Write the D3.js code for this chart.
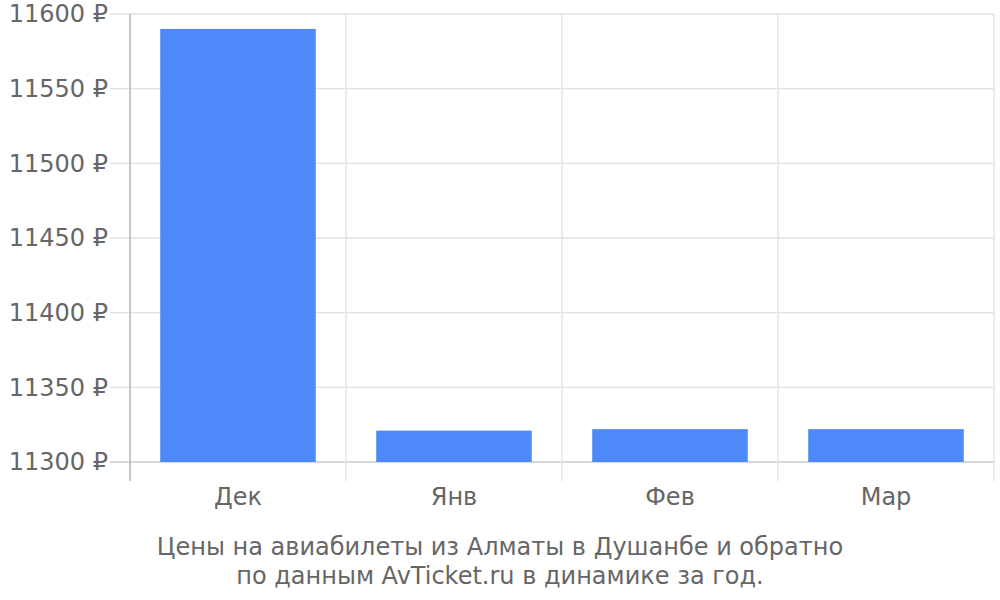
<!DOCTYPE html>
<html>
<head>
<meta charset="utf-8">
<script src="https://cdn.jsdelivr.net/npm/d3@7"></script>
<style>
  body { margin: 0; background: #fff; }
  svg text { font-family: "DejaVu Sans", sans-serif; fill: #666; }
</style>
</head>
<body>
<svg id="chart" width="1000" height="600"></svg>
<script>
// Data
const months = ["Дек", "Янв", "Фев", "Мар"];
const prices = [11590, 11321, 11322, 11322];
const yTicks = [11300, 11350, 11400, 11450, 11500, 11550, 11600];
const caption = [
    "Цены на авиабилеты из Алматы в Душанбе и обратно",
    "по данным AvTicket.ru в динамике за год."
];

const margin = { top: 14, right: 6, bottom: 138, left: 130 };
const width = 1000 - margin.left - margin.right;
const height = 600 - margin.top - margin.bottom;

const svg = d3.select("#chart")
    .append("g")
    .attr("transform", `translate(${margin.left},${margin.top})`);

const x = d3.scaleBand()
    .domain(months)
    .range([0, width])
    .paddingInner(0.28)
    .paddingOuter(0.14);

const y = d3.scaleLinear()
    .domain([11300, 11600])
    .range([height, 0]);

// Horizontal grid lines + ticks
svg.append("g")
    .selectAll("line")
    .data(yTicks)
    .join("line")
    .attr("x1", -20)
    .attr("x2", width)
    .attr("y1", d => y(d))
    .attr("y2", d => y(d))
    .attr("stroke", d => d === 11300 ? "#ccc" : "#e0e0e0")
    .attr("stroke-width", 1.3);

// Vertical grid lines at band boundaries
const bounds = months.map(m => x(m) - x.step() * x.paddingOuter()).concat([width]);
svg.append("g")
    .selectAll("line")
    .data(bounds)
    .join("line")
    .attr("x1", d => d)
    .attr("x2", d => d)
    .attr("y1", 0)
    .attr("y2", height + 19)
    .attr("stroke", (d, i) => i === 0 ? "#aaa" : "#e0e0e0")
    .attr("stroke-width", 1.3);

// Bars
svg.append("g")
    .selectAll("rect")
    .data(prices)
    .join("rect")
    .attr("x", (d, i) => x(months[i]))
    .attr("width", x.bandwidth())
    .attr("y", d => y(d))
    .attr("height", d => height - y(d))
    .attr("fill", "#4d89f9");

// Y labels
svg.append("g")
    .selectAll("text")
    .data(yTicks)
    .join("text")
    .attr("x", -22)
    .attr("y", d => y(d))
    .attr("dy", "0.35em")
    .attr("text-anchor", "end")
    .attr("font-size", 24)
    .text(d => `${d} ₽`);

// X labels
svg.append("g")
    .selectAll("text")
    .data(months)
    .join("text")
    .attr("x", d => x(d) + x.bandwidth() / 2)
    .attr("y", height + 43)
    .attr("text-anchor", "middle")
    .attr("font-size", 24)
    .text(d => d);

// Caption
svg.append("g")
    .selectAll("text")
    .data(caption)
    .join("text")
    .attr("x", 500 - margin.left)
    .attr("y", (d, i) => height + 93 + i * 29)
    .attr("text-anchor", "middle")
    .attr("font-size", 24)
    .text(d => d);
</script>
</body>
</html>
